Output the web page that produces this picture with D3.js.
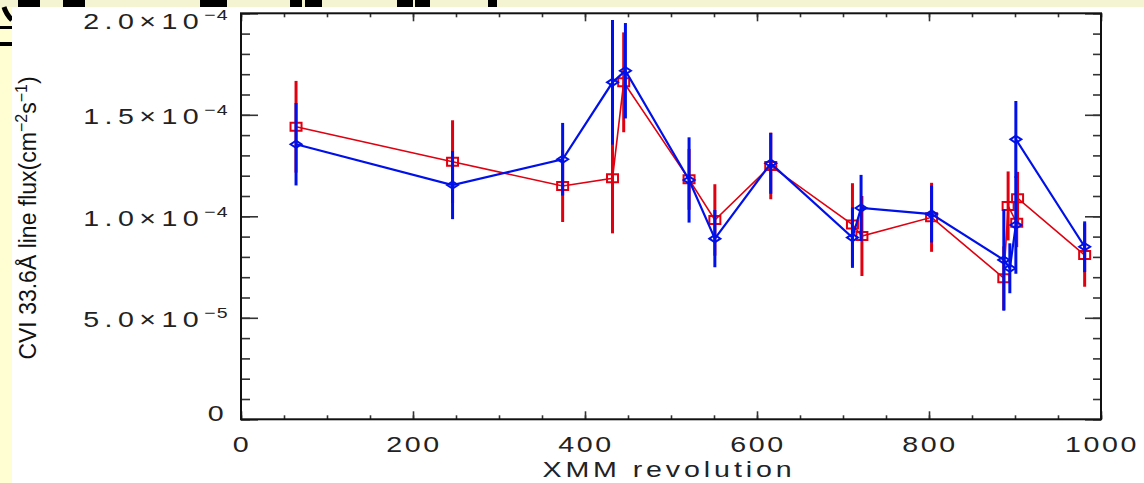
<!DOCTYPE html>
<html>
<head>
<meta charset="utf-8">
<script src="https://cdn.jsdelivr.net/npm/d3@7"></script>
<style>
body { margin: 0; background: #fff; }
svg { display: block; }
</style>
</head>
<body>
<script>
// red series (squares)
var revRed  = [64, 246, 374, 432, 445, 521, 551, 616, 711, 722, 803, 887, 892, 902, 903, 981];
var fluxRed = [1.441e-4, 1.269e-4, 1.149e-4, 1.187e-4, 1.66e-4, 1.182e-4, 0.982e-4, 1.248e-4, 0.959e-4, 0.903e-4, 0.995e-4, 0.695e-4, 1.051e-4, 0.968e-4, 1.089e-4, 0.809e-4];
var errRed  = [0.226e-4, 0.204e-4, 0.177e-4, 0.271e-4, 0.246e-4, 0.15e-4, 0.176e-4, 0.164e-4, 0.204e-4, 0.197e-4, 0.17e-4, 0.157e-4, 0.17e-4, 0.12e-4, 0.13e-4, 0.156e-4];

// blue series (diamonds)
var revBlue  = [64, 246, 374, 432, 447, 521, 551, 616, 711, 721, 803, 887, 894, 901, 901, 981];
var fluxBlue = [1.355e-4, 1.154e-4, 1.281e-4, 1.66e-4, 1.717e-4, 1.179e-4, 0.89e-4, 1.261e-4, 0.895e-4, 1.041e-4, 1.011e-4, 0.785e-4, 0.744e-4, 0.957e-4, 1.379e-4, 0.85e-4];
var errBlue  = [0.203e-4, 0.168e-4, 0.179e-4, 0.307e-4, 0.235e-4, 0.21e-4, 0.141e-4, 0.15e-4, 0.149e-4, 0.163e-4, 0.14e-4, 0.25e-4, 0.123e-4, 0.24e-4, 0.189e-4, 0.125e-4];

// ticks
var xTicks = [0, 200, 400, 600, 800, 1000];
var xTickLabels = ["0", "200", "400", "600", "800", "1000"];
var yTicks = [0, 5e-5, 1e-4, 1.5e-4, 2e-4];
var yTickMant = ["0", "5.0", "1.0", "1.5", "2.0"];
var yTickExp = ["", "\u22125", "\u22124", "\u22124", "\u22124"];

var width = 1144, height = 483;
var plot = { left: 241, right: 1101, top: 13.3, bottom: 419.3 };

var red = "#e00010", blue = "#0010e8";
var font = "'Liberation Sans', Arial, sans-serif";

var x = d3.scaleLinear().domain([0, 1000]).range([plot.left, plot.right]);
var y = d3.scaleLinear().domain([0, 2e-4]).range([plot.bottom, plot.top]);

var svg = d3.select("body").append("svg")
  .attr("width", width)
  .attr("height", height);

// slide background bits
svg.append("rect").attr("width", width).attr("height", height).attr("fill", "#fffed2");
svg.append("rect").attr("width", width).attr("height", 7).attr("fill", "#f4f4d2");
var blobs = [[18, 22], [63, 22], [200, 27], [290, 12], [305, 17], [397, 16], [415, 15], [488, 9]];
svg.selectAll(".blob").data(blobs).enter().append("rect")
  .attr("x", function (d) { return d[0]; })
  .attr("y", 0)
  .attr("width", function (d) { return d[1]; })
  .attr("height", 7)
  .attr("fill", "#000");
svg.append("rect").attr("x", 0).attr("y", 26).attr("width", 12).attr("height", 3).attr("fill", "#000");
svg.append("rect").attr("x", 0).attr("y", 42).attr("width", 12).attr("height", 4).attr("fill", "#000");
svg.append("path").attr("d", "M4,7 Q6,14 12,20").attr("stroke", "#000").attr("stroke-width", 5).attr("fill", "none");
svg.append("rect").attr("x", 12).attr("y", 7).attr("width", width - 12).attr("height", height - 7).attr("fill", "#fff");

// axes: minor + major ticks on all four sides
function ticks(axis, tr) {
  var g = svg.append("g").attr("transform", tr).call(axis);
  g.select(".domain").remove();
  g.selectAll("line").attr("stroke", "#333").attr("stroke-width", 1.6);
}
var xMinor = d3.range(0, 1001, 50);
var yMinor = d3.range(0, 21).map(function (i) { return i * 1e-5; });

ticks(d3.axisBottom(x).tickValues(xMinor).tickSize(-4).tickFormat(""), "translate(0," + plot.bottom + ")");
ticks(d3.axisBottom(x).tickValues(xTicks).tickSize(-8).tickFormat(""), "translate(0," + plot.bottom + ")");
ticks(d3.axisTop(x).tickValues(xMinor).tickSize(-4).tickFormat(""), "translate(0," + plot.top + ")");
ticks(d3.axisTop(x).tickValues(xTicks).tickSize(-8).tickFormat(""), "translate(0," + plot.top + ")");
ticks(d3.axisLeft(y).tickValues(yMinor).tickSize(-9).tickFormat(""), "translate(" + plot.left + ",0)");
ticks(d3.axisLeft(y).tickValues(yTicks).tickSize(-17).tickFormat(""), "translate(" + plot.left + ",0)");
ticks(d3.axisRight(y).tickValues(yMinor).tickSize(-8).tickFormat(""), "translate(" + plot.right + ",0)");
ticks(d3.axisRight(y).tickValues(yTicks).tickSize(-16).tickFormat(""), "translate(" + plot.right + ",0)");

svg.append("rect")
  .attr("x", plot.left).attr("y", plot.top)
  .attr("width", plot.right - plot.left).attr("height", plot.bottom - plot.top)
  .attr("fill", "none").attr("stroke", "#111").attr("stroke-width", 2);

// tick labels
svg.selectAll(".xlab").data(xTicks).enter().append("text")
  .attr("transform", function (d) { return "translate(" + (x(d) + 1) + ",451.5) scale(1.3,1)"; })
  .attr("text-anchor", "middle")
  .style("font-family", font).style("font-size", "22px").style("letter-spacing", "2px")
  .attr("fill", "#222")
  .text(function (d, i) { return xTickLabels[i]; });

var ylab = svg.selectAll(".ylab").data(yTicks).enter().append("text")
  .attr("transform", function (d) {
    var cy = Math.max(21.5, Math.min(413, y(d) + 1.5));
    return "translate(229," + (cy + 7.8) + ") scale(1.3,1)";
  })
  .attr("text-anchor", "end")
  .style("font-family", font).style("font-size", "22px").style("letter-spacing", "4.2px")
  .attr("fill", "#222");
ylab.append("tspan").text(function (d, i) { return yTickExp[i] ? yTickMant[i] + "\u00d710" : yTickMant[i]; });
ylab.append("tspan")
  .attr("dy", -9)
  .style("font-size", "15px").style("letter-spacing", "1px")
  .text(function (d, i) { return yTickExp[i]; });

// axis titles
svg.append("text")
  .attr("transform", "translate(669,477) scale(1.3,1)")
  .attr("text-anchor", "middle")
  .style("font-family", font).style("font-size", "22px").style("letter-spacing", "3px")
  .attr("fill", "#222")
  .text("XMM revolution");

var yt = svg.append("text")
  .attr("transform", "translate(36,218) rotate(-90)")
  .attr("text-anchor", "middle")
  .style("font-family", font).style("font-size", "23px")
  .attr("fill", "#111");
yt.append("tspan").text("CVI 33.6\u00c5 line flux(cm");
yt.append("tspan").attr("dy", -9).style("font-size", "16px").text("\u22122");
yt.append("tspan").attr("dy", 9).text("s");
yt.append("tspan").attr("dy", -9).style("font-size", "16px").text("\u22121");
yt.append("tspan").attr("dy", 9).text(")");

// series
function drawSeries(rev, flux, err, color, lw, marker) {
  var idx = d3.range(rev.length);
  var line = d3.line()
    .x(function (i) { return x(rev[i]); })
    .y(function (i) { return y(flux[i]); });
  svg.append("path").datum(idx)
    .attr("d", line)
    .attr("fill", "none").attr("stroke", color).attr("stroke-width", lw);
  svg.selectAll(null).data(idx).enter().append("line")
    .attr("x1", function (i) { return x(rev[i]); })
    .attr("x2", function (i) { return x(rev[i]); })
    .attr("y1", function (i) { return y(flux[i] - err[i]); })
    .attr("y2", function (i) { return y(flux[i] + err[i]); })
    .attr("stroke", color).attr("stroke-width", 3);
  svg.selectAll(null).data(idx).enter().append("path")
    .attr("transform", function (i) { return "translate(" + x(rev[i]) + "," + y(flux[i]) + ")"; })
    .attr("d", marker)
    .attr("fill", "none").attr("stroke", color).attr("stroke-width", 2);
}

drawSeries(revRed, fluxRed, errRed, red, 1.6, "M-5.5,-4H5.5V4H-5.5Z");
drawSeries(revBlue, fluxBlue, errBlue, blue, 2.2, "M-5.5,0L0,-3.6L5.5,0L0,3.6Z");
</script>
</body>
</html>
